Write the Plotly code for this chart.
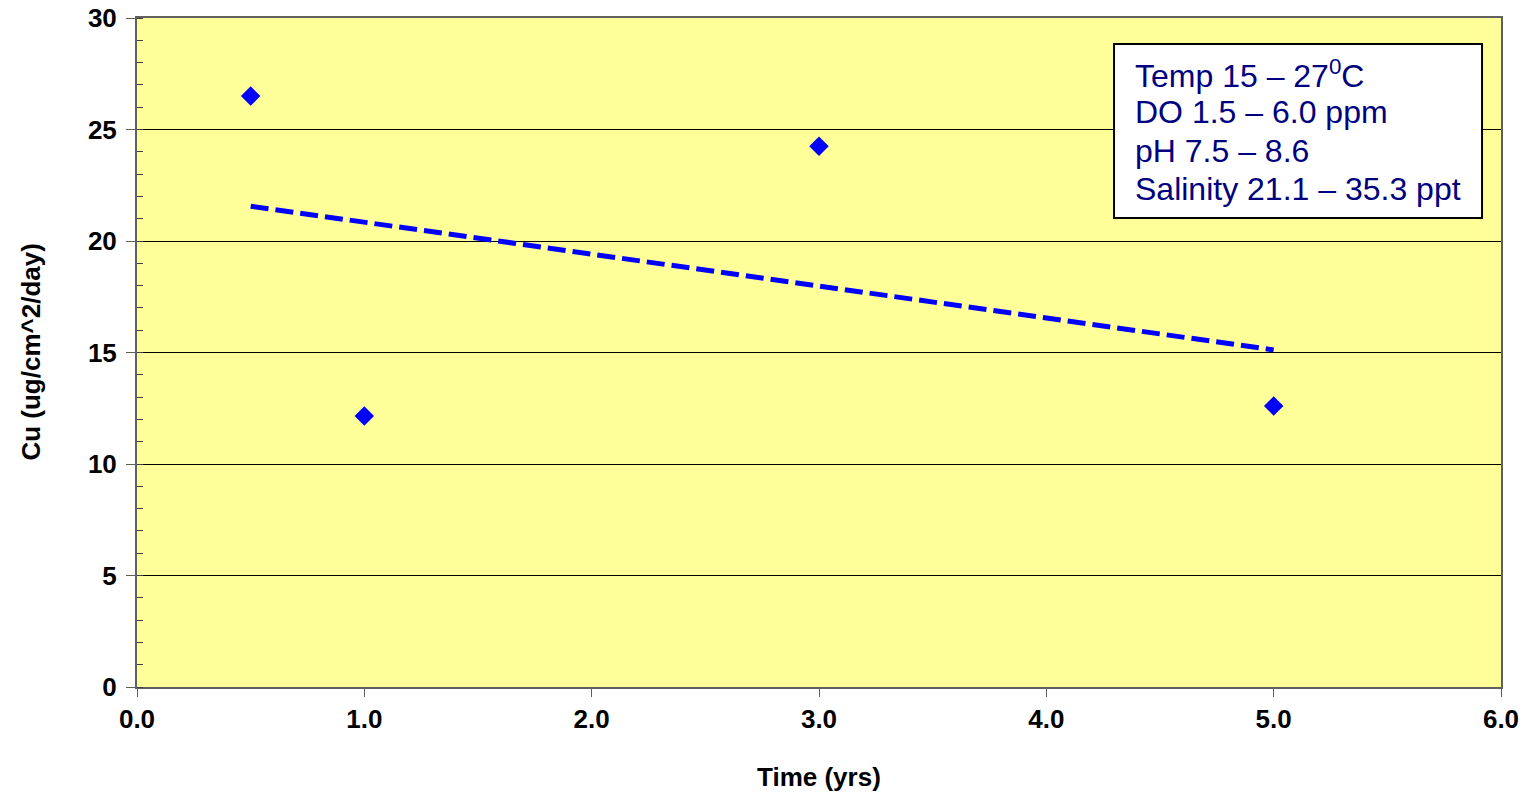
import numpy as np
import plotly.graph_objects as go

time_yrs = [0.5, 1.0, 3.0, 5.0]
cu_rate = [26.5, 12.15, 24.25, 12.6]
x_ticks = [0, 1, 2, 3, 4, 5, 6]
info_lines = ["Temp 15 \u2013 27<sup>0</sup>C", "DO 1.5 \u2013 6.0 ppm",
              "pH 7.5 \u2013 8.6", "Salinity 21.1 \u2013 35.3 ppt"]

slope, intercept = np.polyfit(time_yrs, cu_rate, 1)
trend_x = [min(time_yrs), max(time_yrs)]
trend_y = [slope * v + intercept for v in trend_x]

FONT = "Liberation Sans, Arial, sans-serif"

fig = go.Figure()
fig.add_trace(go.Scatter(x=trend_x, y=trend_y, mode="lines",
                         line=dict(color="#0000FF", width=5, dash="18px,7px"),
                         showlegend=False, hoverinfo="skip"))
fig.add_trace(go.Scatter(x=time_yrs, y=cu_rate, mode="markers",
                         marker=dict(symbol="diamond", size=15, color="#0000FF",
                                     line=dict(width=0)),
                         showlegend=False))

fig.update_layout(
    width=1536, height=796,
    margin=dict(l=137, r=35, t=18, b=109),
    paper_bgcolor="white", plot_bgcolor="#FFFF99",
    font=dict(family=FONT, color="black"),
    xaxis=dict(range=[0, 6], tickvals=x_ticks, tickformat=".1f",
               showgrid=False, zeroline=False, automargin=False,
               showline=True, linecolor="#606060", linewidth=2, mirror=True,
               ticks="outside", ticklen=8, tickwidth=1, tickcolor="#606060",
               tickfont=dict(size=26, weight="bold", family=FONT)),
    yaxis=dict(range=[0, 30], dtick=5, showgrid=True, gridcolor="black", gridwidth=1,
               zeroline=False, automargin=False,
               showline=True, linecolor="#606060", linewidth=2, mirror=True,
               ticks="outside", ticklen=9, tickwidth=1, tickcolor="#606060",
               ticklabelstandoff=4,
               minor=dict(dtick=1, ticks="inside", ticklen=6, tickcolor="#404040",
                          showgrid=False),
               tickfont=dict(size=26, weight="bold", family=FONT)),
)

fig.add_annotation(xref="x domain", yref="y domain", x=0.5, y=-0.1345,
                   text="Time (yrs)", showarrow=False, xanchor="center", yanchor="middle",
                   font=dict(size=26, weight="bold", family=FONT))
fig.add_annotation(xref="x domain", yref="y domain", x=-0.0784, y=0.5,
                   text="Cu (ug/cm^2/day)", showarrow=False, textangle=-90,
                   xanchor="center", yanchor="middle",
                   font=dict(size=26, weight="bold", family=FONT))

fig.add_shape(type="rect", xref="x domain", yref="y domain",
              x0=0.7163, x1=0.9861, y0=0.7010, y1=0.9611,
              fillcolor="white", line=dict(color="black", width=2))

ys = [0.9163, 0.8595, 0.8012, 0.7444]
for txt, yy in zip(info_lines, ys):
    fig.add_annotation(xref="x domain", yref="y domain", x=0.7302, y=yy,
                       text=txt, showarrow=False, xanchor="left", yanchor="middle",
                       font=dict(size=32, color="#000080", family=FONT))

fig.write_html("out.html")
